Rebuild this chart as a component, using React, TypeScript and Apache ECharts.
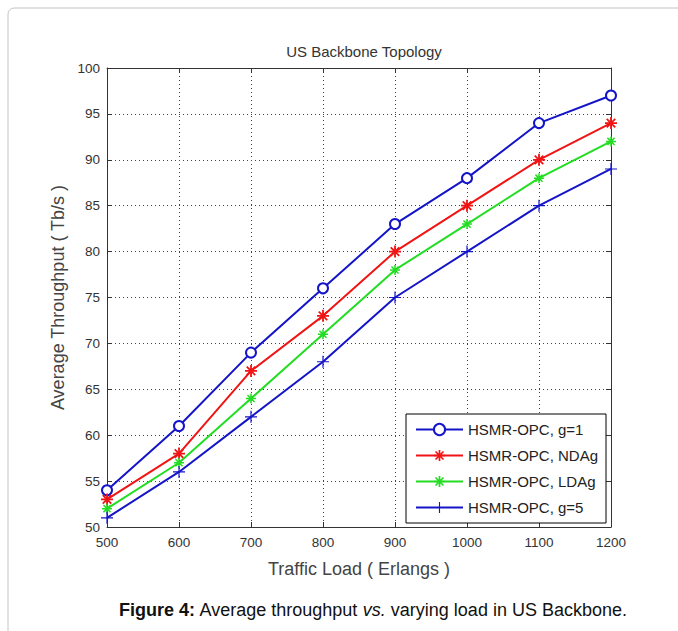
import React, { useEffect, useRef } from "react";
import * as echarts from "echarts";

const loads = [500, 600, 700, 800, 900, 1000, 1100, 1200];
const g1 = [54, 61, 69, 76, 83, 88, 94, 97];
const ndag = [53, 58, 67, 73, 80, 85, 90, 94];
const ldag = [52, 57, 64, 71, 78, 83, 88, 92];
const g5 = [51, 56, 62, 68, 75, 80, 85, 89];
const seriesNames = ["HSMR-OPC, g=1", "HSMR-OPC, NDAg", "HSMR-OPC, LDAg", "HSMR-OPC, g=5"];

const ASTERISK =
  "path://M8.5,0H11.5V20H8.5Z M0,8.5H20V11.5H0Z M3.96,1.84L18.16,16.04L16.04,18.16L1.84,3.96Z M18.16,3.96L3.96,18.16L1.84,16.04L16.04,1.84Z";
const PLUS = "path://M9,0H11V9H20V11H11V20H9V11H0V9H9Z";

const tickFont = "'Liberation Sans Narrow', 'Liberation Sans', Arial, sans-serif";
const font = "'Liberation Sans', Arial, sans-serif";

export default function App() {
  const ref = useRef<HTMLDivElement>(null);
  useEffect(() => {
    document.body.style.margin = "0";
    const chart = echarts.init(ref.current!, null, { renderer: "svg" });
    const mk = (name: string, data: number[], color: string, symbol: string, size: number) => ({
      name,
      type: "line",
      xAxisIndex: 0,
      yAxisIndex: 0,
      data: loads.map((x, i) => [x, data[i]]),
      symbol,
      symbolSize: size,
      showAllSymbol: true,
      lineStyle: { color, width: 2 },
      itemStyle: { color, borderColor: color, borderWidth: symbol === "emptyCircle" ? 1.6 : 0 },
      z: 3,
    });
    const axisCommon = {
      type: "value",
      axisLine: { show: true, onZero: false, lineStyle: { color: "#333", width: 1 } },
      axisTick: { show: true, inside: true, length: 5, lineStyle: { color: "#333" } },
    };
    chart.setOption({
      animation: false,
      backgroundColor: "#fff",
      title: {
        text: "US Backbone Topology",
        left: 359,
        top: 39,
        textAlign: "center",
        textStyle: { fontFamily: tickFont, fontSize: 15, fontWeight: "normal", color: "#333" },
      },
      grid: { left: 107, top: 68, width: 504, height: 459 },
      legend: {
        orient: "vertical",
        left: 406,
        top: 414,
        width: 198,
        padding: [8, 8, 8, 9],
        itemWidth: 47,
        itemHeight: 14,
        itemGap: 11,
        borderColor: "#000",
        borderWidth: 1,
        backgroundColor: "#fff",
        textStyle: { fontFamily: font, fontSize: 15, color: "#222" },
        data: seriesNames,
      },
      xAxis: [
        {
          ...axisCommon,
          position: "bottom",
          min: 500,
          max: 1200,
          interval: 100,
          name: "Traffic Load ( Erlangs )",
          nameLocation: "middle",
          nameGap: 33,
          nameTextStyle: { fontFamily: tickFont, fontSize: 18, color: "#444" },
          axisLabel: {
            margin: 8,
            fontFamily: tickFont,
            fontSize: 13.5,
            color: "#333",
            formatter: (v: number) => String(v),
          },
          splitLine: { show: true, lineStyle: { type: [1, 3], color: "#444", width: 1 } },
        },
        {
          ...axisCommon,
          position: "top",
          min: 500,
          max: 1200,
          interval: 100,
          axisLabel: { show: false },
          splitLine: { show: false },
        },
      ],
      yAxis: [
        {
          ...axisCommon,
          position: "left",
          min: 50,
          max: 100,
          interval: 5,
          name: "Average Throughput ( Tb/s )",
          nameLocation: "middle",
          nameGap: 33,
          nameTextStyle: { fontFamily: tickFont, fontSize: 18, color: "#444" },
          axisLabel: { margin: 7, fontFamily: tickFont, fontSize: 13.5, color: "#333" },
          splitLine: { show: true, lineStyle: { type: [1, 3], color: "#444", width: 1 } },
        },
        {
          ...axisCommon,
          position: "right",
          min: 50,
          max: 100,
          interval: 5,
          axisLabel: { show: false },
          splitLine: { show: false },
        },
      ],
      series: [
        mk(seriesNames[0], g1, "#1414c8", "emptyCircle", 10),
        mk(seriesNames[1], ndag, "#f01414", ASTERISK, 12),
        mk(seriesNames[2], ldag, "#22dd22", ASTERISK, 10),
        mk(seriesNames[3], g5, "#1414c8", PLUS, 12),
      ],
      graphic: [
        {
          type: "rect",
          shape: { x: 8, y: 8, width: 720, height: 720, r: 6 },
          style: { fill: "none", stroke: "#c4c4c4", lineWidth: 1 },
          silent: true,
          z: -10,
        },
        {
          type: "text",
          x: 373,
          y: 610,
          style: {
            text: "{b|Figure 4:} Average throughput {i|vs.} varying load in US Backbone.",
            align: "center",
            verticalAlign: "middle",
            font: `18px ${font}`,
            fill: "#111",
            rich: {
              b: { fontWeight: "bold", fontSize: 18, fontFamily: font, fill: "#111" },
              i: { fontStyle: "italic", fontSize: 18, fontFamily: font, fill: "#111" },
            },
          },
        },
      ],
    });
    return () => chart.dispose();
  }, []);
  return <div ref={ref} style={{ width: 678, height: 631 }} />;
}
